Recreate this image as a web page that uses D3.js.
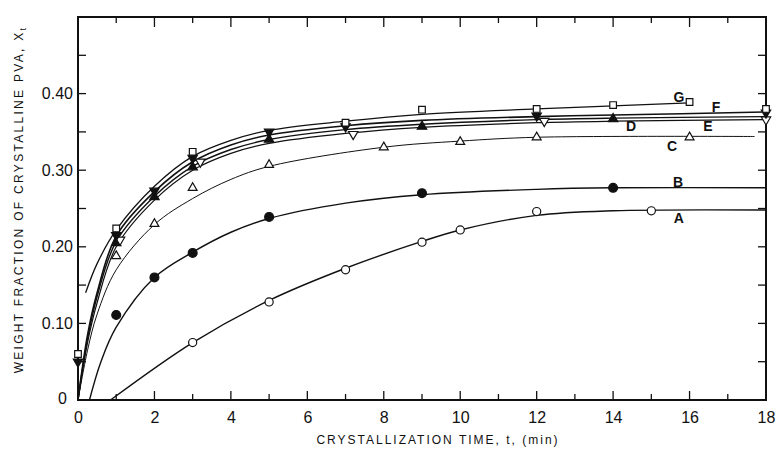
<!DOCTYPE html>
<html>
<head>
<meta charset="utf-8">
<script src="https://cdn.jsdelivr.net/npm/d3@7"></script>
<style>
  body { margin: 0; background: #fff; }
  text { font-family: "Liberation Sans", Arial, sans-serif; fill: #111; }
</style>
</head>
<body>
<div id="chart"></div>
<script>
// ---- data ----
const seriesNames = ["A", "B", "C", "D", "E", "F", "G"];

// fitted curves (t in min, weight fraction)
const curveA = [[0.85, 0], [3, 0.075], [5, 0.13], [7, 0.172], [9, 0.207], [10, 0.222], [12, 0.241], [14, 0.247], [18, 0.248]];
const curveB = [[0.3, 0], [0.6, 0.05], [1, 0.095], [2, 0.16], [3, 0.193], [4, 0.219], [5, 0.237], [7, 0.257], [9, 0.268], [12, 0.275], [14, 0.277], [18, 0.277]];
const curveC = [[0, 0], [0.25, 0.065], [0.5, 0.112], [1, 0.17], [2, 0.229], [3, 0.263], [4, 0.288], [5, 0.305], [8, 0.330], [10, 0.338], [12, 0.343], [17.7, 0.344]];
const curveD = [[0, 0], [0.25, 0.08], [0.5, 0.135], [1, 0.207], [2, 0.266], [3, 0.305], [4, 0.327], [5, 0.340], [7, 0.353], [9, 0.36], [12, 0.366], [14, 0.368], [18, 0.37]];
const curveE = [[0, 0], [0.25, 0.075], [0.5, 0.127], [1, 0.2], [2, 0.261], [3, 0.300], [4, 0.322], [5, 0.335], [7, 0.348], [9, 0.356], [12, 0.362], [14, 0.364], [18, 0.366]];
const curveF = [[0, 0], [0.25, 0.085], [0.5, 0.14], [1, 0.214], [2, 0.272], [3, 0.311], [4, 0.333], [5, 0.346], [7, 0.358], [9, 0.365], [12, 0.370], [14, 0.372], [18, 0.376]];
const curveG = [[0.2, 0.14], [0.5, 0.178], [1, 0.222], [2, 0.279], [3, 0.318], [4, 0.339], [5, 0.352], [7, 0.364], [9, 0.373], [12, 0.380], [14, 0.384], [16, 0.388]];

// measured points
const pointsA = [[3, 0.075], [5, 0.128], [7, 0.17], [9, 0.206], [10, 0.222], [12, 0.246], [15, 0.247]];
const pointsB = [[1, 0.111], [2, 0.16], [3, 0.192], [5, 0.239], [9, 0.27], [14, 0.277]];
const pointsC = [[1, 0.188], [2, 0.23], [3, 0.277], [5, 0.307], [8, 0.330], [10, 0.337], [12, 0.343], [16, 0.343]];
const pointsD = [[1, 0.205], [2, 0.265], [3, 0.304], [5, 0.34], [9, 0.357], [14, 0.367]];
const pointsE = [[1.1, 0.209], [3.2, 0.311], [7.2, 0.347], [12.2, 0.364], [18, 0.366]];
const pointsF = [[0, 0.05], [1, 0.215], [2, 0.273], [3, 0.316], [5, 0.35], [7, 0.357], [12, 0.371], [18, 0.375]];
const pointsG = [[0, 0.06], [1, 0.224], [3, 0.324], [7, 0.362], [9, 0.379], [12, 0.38], [14, 0.385], [16, 0.389], [18, 0.38]];

// where the curve letters sit (t, fraction)
const labelAt = [[15.72, 0.237], [15.7, 0.285], [15.54, 0.332], [14.47, 0.357], [16.48, 0.358], [16.69, 0.383], [15.72, 0.396]];

const xTicks = [0, 2, 4, 6, 8, 10, 12, 14, 16, 18];
const yTicks = [0, 0.10, 0.20, 0.30, 0.40];

const curves = [curveA, curveB, curveC, curveD, curveE, curveF, curveG];
const points = [pointsA, pointsB, pointsC, pointsD, pointsE, pointsF, pointsG];

// marker style per series
const markers = [
    {type: d3.symbolCircle, fill: "#fff", size: 52, rot: 0},
    {type: d3.symbolCircle, fill: "#111", size: 62, rot: 0},
    {type: d3.symbolTriangle, fill: "#fff", size: 34, rot: 0},
    {type: d3.symbolTriangle, fill: "#111", size: 38, rot: 0},
    {type: d3.symbolTriangle, fill: "#fff", size: 38, rot: 180},
    {type: d3.symbolTriangle, fill: "#111", size: 38, rot: 180},
    {type: d3.symbolSquare, fill: "#fff", size: 44, rot: 0}
];
const lineWidths = [1.4, 1.4, 1.0, 1.4, 1.2, 1.6, 1.3];

// ---- drawing ----
let margin = {top: 17, right: 11, bottom: 57, left: 78};
let width = 777 - margin.left - margin.right,
    height = 457 - margin.top - margin.bottom;

let svg = d3.select("#chart").append("svg")
    .attr("width", 777)
    .attr("height", 457)
    .append("g")
    .attr("transform", "translate(" + margin.left + "," + margin.top + ")");

let x = d3.scaleLinear().domain([0, 18]).range([0, width]);
let y = d3.scaleLinear().domain([0, 0.5]).range([height, 0]);

// bottom axis labels (ticks drawn separately, pointing in)
let xAxis = d3.axisBottom(x).tickValues(xTicks).tickSize(0).tickPadding(12)
    .tickFormat(d3.format("d"));
svg.append("g").attr("class", "x-axis")
    .attr("transform", `translate(0,${height})`)
    .call(xAxis)
    .call(g => g.select(".domain").remove())
    .selectAll("text").style("font-size", "16px");

let yAxis = d3.axisLeft(y).tickValues(yTicks).tickSize(0).tickPadding(5)
    .tickFormat(d => d === 0 ? "0" : d3.format(".2f")(d));
svg.append("g").attr("class", "y-axis")
    .call(yAxis)
    .call(g => g.select(".domain").remove())
    .selectAll("text").style("font-size", "16px");
svg.select(".y-axis").selectAll(".tick").filter(d => d === 0)
    .select("text").attr("x", -11).attr("dy", "0.2em");

// inward ticks on all four sides
let tickG = svg.append("g").attr("stroke", "#111").attr("stroke-width", 1.3);
let tMinor = d3.range(1, 18);
tickG.selectAll(".tb").data(tMinor).enter().append("line")
    .attr("x1", d => x(d)).attr("x2", d => x(d))
    .attr("y1", height).attr("y2", d => height - (d % 2 === 0 ? 9 : 6));
tickG.selectAll(".tt").data(tMinor).enter().append("line")
    .attr("x1", d => x(d)).attr("x2", d => x(d))
    .attr("y1", 0).attr("y2", d => (d % 2 === 0 ? 10 : 6));
let yMinor = d3.range(1, 10).map(i => i * 0.05);
tickG.selectAll(".tl").data(yMinor).enter().append("line")
    .attr("x1", 0).attr("x2", 8)
    .attr("y1", d => y(d)).attr("y2", d => y(d));
tickG.selectAll(".tr").data(yMinor).enter().append("line")
    .attr("x1", width).attr("x2", width - 8)
    .attr("y1", d => y(d)).attr("y2", d => y(d));

// frame
svg.append("rect")
    .attr("x", 0).attr("y", 0)
    .attr("width", width).attr("height", height)
    .attr("fill", "none").attr("stroke", "#111").attr("stroke-width", 2);

// curves
let line = d3.line()
    .x(d => x(d[0]))
    .y(d => y(d[1]))
    .curve(d3.curveCatmullRom.alpha(0.5));

svg.selectAll(".curve").data(curves).enter().append("path")
    .attr("class", "curve")
    .attr("d", line)
    .attr("fill", "none")
    .attr("stroke", "#111")
    .attr("stroke-width", (d, i) => lineWidths[i]);

// markers
points.forEach(function(pts, i) {
    let m = markers[i];
    svg.selectAll(".mk" + i).data(pts).enter().append("path")
        .attr("class", "mk" + i)
        .attr("d", d3.symbol().type(m.type).size(m.size))
        .attr("transform", d => `translate(${x(d[0])},${y(d[1])}) rotate(${m.rot})`)
        .attr("fill", m.fill)
        .attr("stroke", "#111")
        .attr("stroke-width", 1.2);
});

// curve letters
svg.selectAll(".lbl").data(labelAt).enter().append("text")
    .attr("x", d => x(d[0]))
    .attr("y", d => y(d[1]))
    .attr("text-anchor", "middle")
    .attr("dy", "0.35em")
    .style("font-size", "14px")
    .style("font-weight", "bold")
    .text((d, i) => seriesNames[i]);

// axis titles
svg.append("text")
    .attr("x", width / 2 + 16)
    .attr("y", height + 44)
    .attr("text-anchor", "middle")
    .style("font-size", "12px")
    .style("letter-spacing", "2px")
    .text("CRYSTALLIZATION  TIME, t, (min)");

let yt = svg.append("text")
    .attr("transform", `translate(${-55},${height / 2 - 9}) rotate(-90)`)
    .attr("text-anchor", "middle")
    .style("font-size", "12px")
    .style("letter-spacing", "2.3px");
yt.append("tspan").text("WEIGHT FRACTION OF CRYSTALLINE   PVA, X");
yt.append("tspan").attr("dy", "3").style("font-size", "9px").text("t");
</script>
</body>
</html>
